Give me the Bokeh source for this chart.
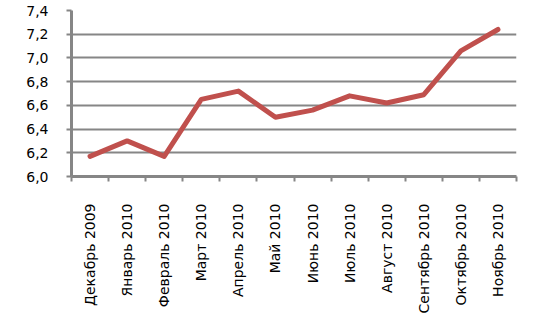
import numpy as np
from bokeh.plotting import figure
from bokeh.models import FixedTicker, Range1d
from bokeh.embed import file_html
from bokeh.resources import INLINE

months = ["Декабрь 2009", "Январь 2010", "Февраль 2010", "Март 2010", "Апрель 2010",
          "Май 2010", "Июнь 2010", "Июль 2010", "Август 2010", "Сентябрь 2010",
          "Октябрь 2010", "Ноябрь 2010"]
values = [6.17, 6.30, 6.17, 6.65, 6.72, 6.50, 6.56, 6.68, 6.62, 6.69, 7.06, 7.24]
y_ticks = [6.0, 6.2, 6.4, 6.6, 6.8, 7.0, 7.2, 7.4]

n = len(months)
xpos = [i + 0.5 for i in range(n)]

p = figure(width=533, height=323, output_backend="svg", toolbar_location=None,
           x_range=Range1d(0, n), y_range=Range1d(6.0, 7.4),
           min_border_left=71, min_border_right=17, min_border_top=10, min_border_bottom=147)
p.outline_line_color = None
p.background_fill_color = "white"
p.border_fill_color = "white"

p.line(xpos, values, line_color="#C0504D", line_width=5, line_join="round", line_cap="round")

gray = "#868686"
# x axis
p.xaxis.ticker = FixedTicker(ticks=xpos, minor_ticks=list(range(n + 1)))
p.xaxis.major_label_overrides = {x: m for x, m in zip(xpos, months)}
p.xaxis.major_label_orientation = np.pi / 2
p.xaxis.major_tick_out = 0
p.xaxis.major_tick_in = 0
p.xaxis.minor_tick_out = 5
p.xaxis.minor_tick_in = 0
p.xaxis.minor_tick_line_color = gray
p.xaxis.minor_tick_line_width = 2
p.xaxis.axis_line_color = gray
p.xaxis.axis_line_width = 3
p.xaxis.major_label_text_font = "DejaVu Sans"
p.xaxis.major_label_text_font_size = "14px"
p.xaxis.major_label_text_color = "black"
p.xaxis.major_label_standoff = 22

# y axis
p.yaxis.ticker = FixedTicker(ticks=y_ticks)
p.yaxis.major_label_overrides = {t: f"{t:.1f}".replace(".", ",") for t in y_ticks}
p.yaxis.major_tick_out = 5
p.yaxis.major_tick_in = 0
p.yaxis.minor_tick_line_color = None
p.yaxis.major_tick_line_color = gray
p.yaxis.major_tick_line_width = 2
p.yaxis.axis_line_color = gray
p.yaxis.axis_line_width = 3
p.yaxis.major_label_text_font = "DejaVu Sans"
p.yaxis.major_label_text_font_size = "14px"
p.yaxis.major_label_text_color = "black"
p.yaxis.major_label_standoff = 18

p.xgrid.grid_line_color = None
p.ygrid.ticker = FixedTicker(ticks=y_ticks)
p.ygrid.grid_line_color = gray
p.ygrid.grid_line_width = 2

open("out.html", "w").write(file_html(p, INLINE))
